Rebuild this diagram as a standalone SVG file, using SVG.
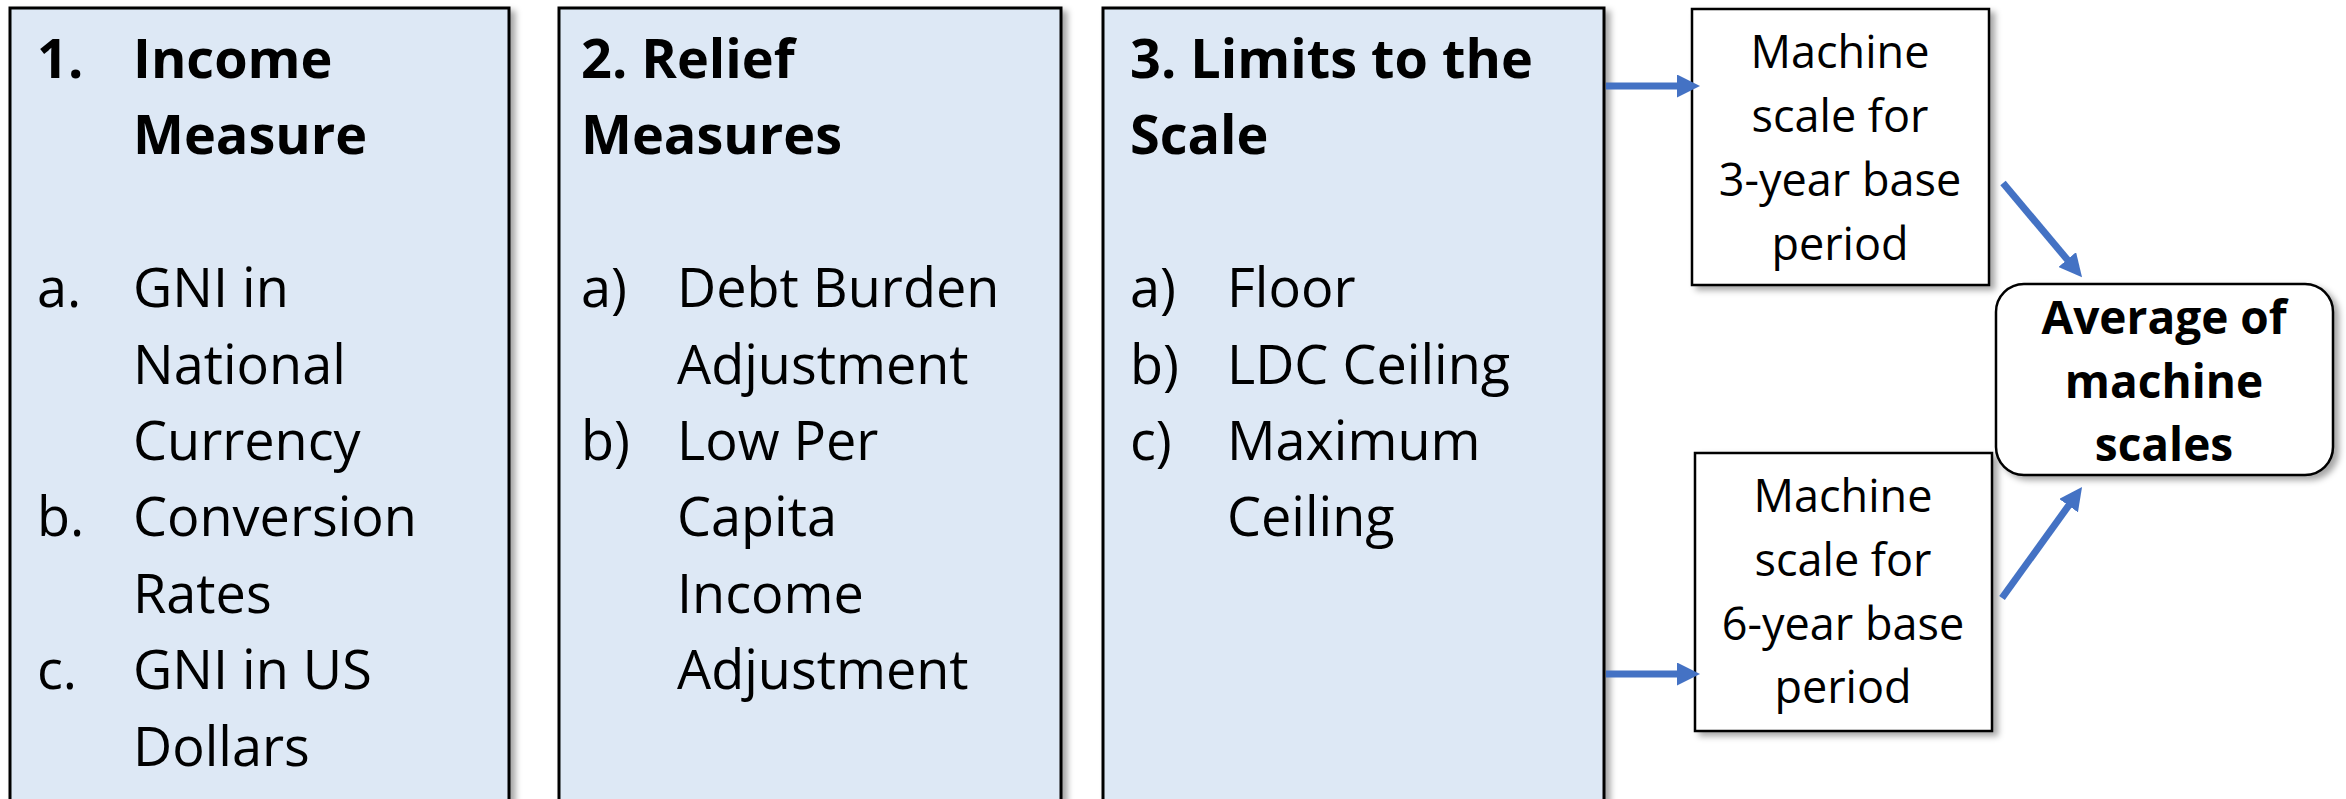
<svg xmlns="http://www.w3.org/2000/svg" width="2346" height="799" viewBox="0 0 2346 799">
  <defs>
    <filter id="shadow" x="-10%" y="-10%" width="130%" height="130%">
      <feDropShadow dx="5" dy="4" stdDeviation="3" flood-color="#000" flood-opacity="0.35"/>
    </filter>
    <marker id="arrow" viewBox="0 0 23 23" markerUnits="userSpaceOnUse" markerWidth="23" markerHeight="23" refX="13" refY="11.5" orient="auto">
      <path d="M0,0 L23,11.5 L0,23 Z" fill="#4472C4"/>
    </marker>
    <style>
      .panel { fill: #DDE8F5; stroke: #000; stroke-width: 3; filter: url(#shadow); }
      .box { fill: #fff; stroke: #000; stroke-width: 2.5; filter: url(#shadow); }
      .head { font-family: "Open Sans", "Liberation Sans", sans-serif; font-weight: bold; font-size: 54px; fill: #000; }
      .body { font-family: "Open Sans", "Liberation Sans", sans-serif; font-size: 54px; fill: #000; }
      .small { font-family: "Open Sans", "Liberation Sans", sans-serif; font-size: 45px; fill: #000; text-anchor: middle; }
      .smallb { font-family: "Open Sans", "Liberation Sans", sans-serif; font-size: 46px; font-weight: bold; fill: #000; text-anchor: middle; }
      .conn { stroke: #4472C4; stroke-width: 7; fill: none; marker-end: url(#arrow); }
    </style>
  </defs>

  <rect width="2346" height="799" fill="#fff"/>

  <!-- Panel 1: income measure -->
  <g id="income-measure">
    <rect class="panel" x="10" y="8" width="499" height="820"/>
    <text class="head" x="37" y="78">1.</text>
    <text class="head" x="133" y="78">Income</text>
    <text class="head" x="133" y="154">Measure</text>
    <text class="body" x="37" y="307">a.</text>
    <text class="body" x="133" y="307">GNI in</text>
    <text class="body" x="133" y="384">National</text>
    <text class="body" x="133" y="460">Currency</text>
    <text class="body" x="37" y="536">b.</text>
    <text class="body" x="133" y="536">Conversion</text>
    <text class="body" x="133" y="613">Rates</text>
    <text class="body" x="37" y="689">c.</text>
    <text class="body" x="133" y="689">GNI in US</text>
    <text class="body" x="133" y="766">Dollars</text>
  </g>

  <!-- Panel 2: relief measures -->
  <g id="relief-measures">
    <rect class="panel" x="559" y="8" width="502" height="820"/>
    <text class="head" x="581" y="78">2. Relief</text>
    <text class="head" x="581" y="154">Measures</text>
    <text class="body" x="581" y="307">a)</text>
    <text class="body" x="677" y="307">Debt Burden</text>
    <text class="body" x="677" y="384">Adjustment</text>
    <text class="body" x="581" y="460">b)</text>
    <text class="body" x="677" y="460">Low Per</text>
    <text class="body" x="677" y="536">Capita</text>
    <text class="body" x="677" y="613">Income</text>
    <text class="body" x="677" y="689">Adjustment</text>
  </g>

  <!-- Panel 3: limits to the scale -->
  <g id="scale-limits">
    <rect class="panel" x="1103" y="8" width="501" height="820"/>
    <text class="head" x="1130" y="78">3. Limits to the</text>
    <text class="head" x="1130" y="154">Scale</text>
    <text class="body" x="1130" y="307">a)</text>
    <text class="body" x="1227" y="307">Floor</text>
    <text class="body" x="1130" y="384">b)</text>
    <text class="body" x="1227" y="384">LDC Ceiling</text>
    <text class="body" x="1130" y="460">c)</text>
    <text class="body" x="1227" y="460">Maximum</text>
    <text class="body" x="1227" y="536">Ceiling</text>
  </g>

  <!-- Machine scale, 3-year base -->
  <g id="scale-3yr">
    <rect class="box" x="1692" y="9" width="297" height="276"/>
    <text class="small" x="1840" y="68">Machine</text>
    <text class="small" x="1840" y="132">scale for</text>
    <text class="small" x="1840" y="196">3-year base</text>
    <text class="small" x="1840" y="260">period</text>
  </g>

  <!-- Machine scale, 6-year base -->
  <g id="scale-6yr">
    <rect class="box" x="1695" y="453" width="297" height="278"/>
    <text class="small" x="1843" y="512">Machine</text>
    <text class="small" x="1843" y="576">scale for</text>
    <text class="small" x="1843" y="640">6-year base</text>
    <text class="small" x="1843" y="703">period</text>
  </g>

  <!-- Average of the two scales -->
  <g id="average">
    <rect class="box" x="1996" y="284" width="337" height="191" rx="28" ry="28"/>
    <text class="smallb" x="2164" y="334">Average of</text>
    <text class="smallb" x="2164" y="398">machine</text>
    <text class="smallb" x="2164" y="461">scales</text>
  </g>

  <!-- Connectors -->
  <g id="connectors">
    <line class="conn" x1="1606" y1="86" x2="1690" y2="86"/>
    <line class="conn" x1="1606" y1="674" x2="1690" y2="674"/>
    <line class="conn" x1="2003" y1="183" x2="2075.6" y2="269.5"/>
    <line class="conn" x1="2002" y1="598" x2="2076.2" y2="495.1"/>
  </g>
</svg>
